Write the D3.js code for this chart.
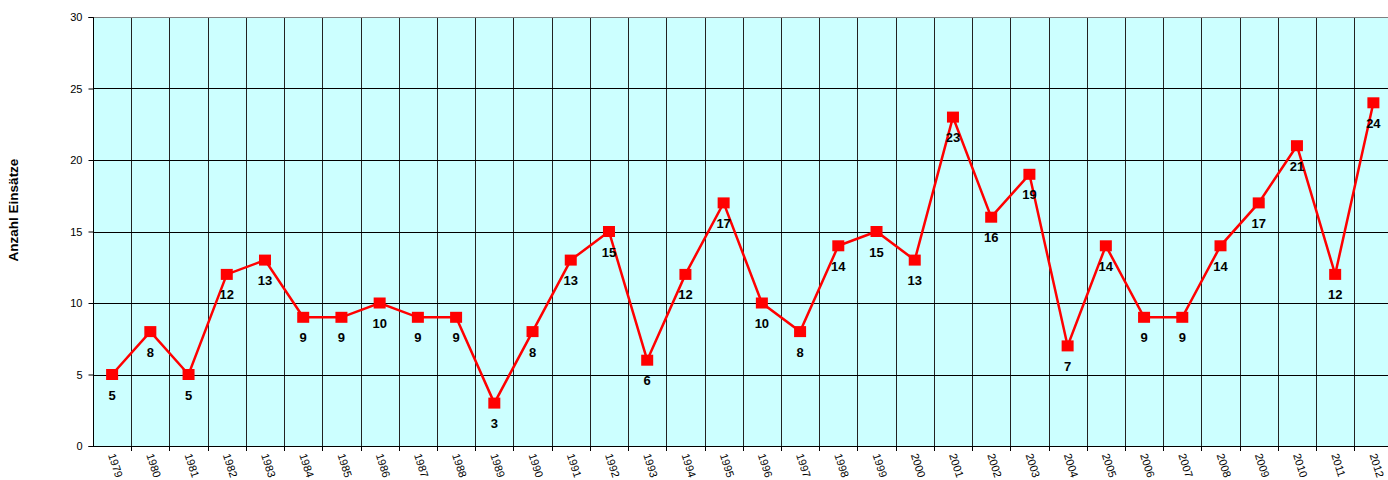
<!DOCTYPE html>
<html>
<head>
<meta charset="utf-8">
<script src="https://cdn.jsdelivr.net/npm/d3@7"></script>
<style>
  body { margin: 0; background: #fff; overflow: hidden; }
  svg { display: block; font-family: "Liberation Sans", Arial, sans-serif; }
</style>
</head>
<body>
<div id="chart"></div>
<script>
// daten
const years = ["1979","1980","1981","1982","1983","1984","1985","1986","1987","1988","1989","1990","1991","1992","1993","1994","1995","1996","1997","1998","1999","2000","2001","2002","2003","2004","2005","2006","2007","2008","2009","2010","2011","2012"];
const einsaetze = [5,8,5,12,13,9,9,10,9,9,3,8,13,15,6,12,17,10,8,14,15,13,23,16,19,7,14,9,9,14,17,21,12,24];
const yTicks = [0,5,10,15,20,25,30];
const yTitle = "Anzahl Einsätze";

const W = 1388, H = 480;
const m = {left: 93, top: 17, bottom: 34};
const plotRight = 1392.5; // plotfläche läuft rechts über den rand hinaus

const svg = d3.select("#chart").append("svg")
  .attr("width", W)
  .attr("height", H);

const x = d3.scaleBand()
  .domain(years)
  .range([m.left, plotRight])
  .padding(0);

const y = d3.scaleLinear()
  .domain([0, 30])
  .range([H - m.bottom, m.top]);

// hintergrund
svg.append("rect")
  .attr("x", m.left)
  .attr("y", m.top)
  .attr("width", plotRight - m.left)
  .attr("height", y(0) - m.top)
  .attr("fill", "#CCFFFF");

// vertikale gitterlinien an kategoriegrenzen
svg.append("g")
  .selectAll("line")
  .data(years.slice(1))
  .enter()
  .append("line")
  .attr("x1", d => Math.round(x(d)) + 0.5)
  .attr("x2", d => Math.round(x(d)) + 0.5)
  .attr("y1", m.top)
  .attr("y2", y(0))
  .attr("stroke", "#222")
  .attr("stroke-width", 1);

// horizontale gitterlinien
svg.append("g")
  .selectAll("line")
  .data(yTicks.filter(d => d > 0))
  .enter()
  .append("line")
  .attr("x1", m.left)
  .attr("x2", plotRight)
  .attr("y1", d => Math.round(y(d)) + 0.5)
  .attr("y2", d => Math.round(y(d)) + 0.5)
  .attr("stroke", d => d === 30 ? "#808080" : "#000")
  .attr("stroke-width", 1);

// y achse
const yAxis = svg.append("g")
  .attr("transform", `translate(${m.left + 0.5},0)`)
  .call(d3.axisLeft(y).tickValues(yTicks).tickSize(5).tickPadding(6));
yAxis.selectAll("text").attr("font-size", 11).attr("font-family", "Liberation Sans, Arial, sans-serif").attr("fill", "#000");
yAxis.selectAll("line, path").attr("stroke", "#000");
yAxis.select(".domain").attr("d", `M-5,${Math.round(y(30)) + 0.5}H0V${Math.round(y(0)) + 0.5}H-5`);

// x achse
const xg = svg.append("g");
xg.append("line")
  .attr("x1", m.left)
  .attr("x2", plotRight)
  .attr("y1", Math.round(y(0)) + 0.5)
  .attr("y2", Math.round(y(0)) + 0.5)
  .attr("stroke", "#000");
xg.selectAll(".tick")
  .data(years.slice(1))
  .enter()
  .append("line")
  .attr("x1", d => Math.round(x(d)) + 0.5)
  .attr("x2", d => Math.round(x(d)) + 0.5)
  .attr("y1", y(0))
  .attr("y2", y(0) + 5)
  .attr("stroke", "#000");

xg.selectAll("text")
  .data(years)
  .enter()
  .append("text")
  .attr("transform", d => `translate(${x(d) + x.bandwidth() / 2 - 4},${y(0) + 9}) rotate(72)`)
  .attr("font-size", 11)
  .attr("fill", "#000")
  .text(d => d);

// y titel
svg.append("text")
  .attr("transform", `translate(18,210) rotate(-90)`)
  .attr("text-anchor", "middle")
  .attr("font-size", 13.5)
  .attr("font-weight", "bold")
  .text(yTitle);

// linie
const cx = d => x(d) + x.bandwidth() / 2;
const line = d3.line()
  .x((d, i) => cx(years[i]))
  .y(d => y(d));

svg.append("path")
  .datum(einsaetze)
  .attr("d", line)
  .attr("fill", "none")
  .attr("stroke", "#FF0000")
  .attr("stroke-width", 2.5);

// marker
svg.append("g")
  .selectAll("rect")
  .data(einsaetze)
  .enter()
  .append("rect")
  .attr("x", (d, i) => cx(years[i]) - 6)
  .attr("y", d => y(d) - 5.5)
  .attr("width", 12)
  .attr("height", 11)
  .attr("fill", "#FF0000");

// werte
svg.append("g")
  .selectAll("text")
  .data(einsaetze)
  .enter()
  .append("text")
  .attr("x", (d, i) => cx(years[i]))
  .attr("y", d => y(d) + 25)
  .attr("text-anchor", "middle")
  .attr("font-size", 13)
  .attr("font-weight", "bold")
  .attr("fill", "#000")
  .text(d => d);
</script>
</body>
</html>
